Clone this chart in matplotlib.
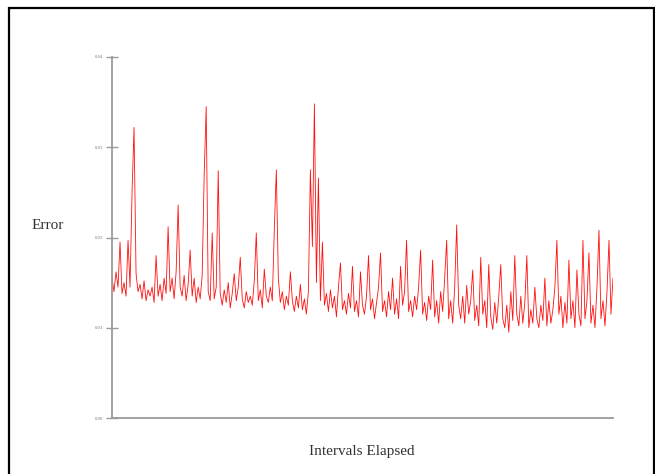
import matplotlib
matplotlib.use("Agg")
import matplotlib.pyplot as plt
from matplotlib.patches import Rectangle

# Error per interval (251 samples)
error_part1 = [1.55, 1.40, 1.62, 1.45, 1.95, 1.38, 1.50, 1.35, 1.97, 1.45,
               2.50, 3.22, 1.60, 1.40, 1.48, 1.32, 1.52, 1.30, 1.42, 1.35,
               1.45, 1.28, 1.80, 1.35, 1.48, 1.30, 1.55, 1.38, 2.12, 1.40,
               1.55, 1.32, 1.62, 2.36, 1.45, 1.35, 1.58, 1.30, 1.48, 1.86,
               1.35, 1.55, 1.28, 1.45, 1.32, 1.58, 2.70, 3.45, 1.40, 1.30]
error_part2 = [2.05, 1.32, 1.45, 2.74, 1.38, 1.25, 1.42, 1.28, 1.50, 1.22,
               1.38, 1.60, 1.30, 1.45, 1.78, 1.32, 1.22, 1.40, 1.28, 1.35,
               1.25, 1.52, 2.05, 1.30, 1.42, 1.22, 1.65, 1.35, 1.28, 1.45,
               1.30, 2.10, 2.75, 1.55, 1.28, 1.40, 1.20, 1.35, 1.25, 1.62,
               1.30, 1.18, 1.35, 1.22, 1.48, 1.20, 1.32, 1.15, 1.40, 2.75]
error_part3 = [1.90, 3.48, 1.50, 2.66, 1.30, 1.95, 1.25, 1.38, 1.18, 1.42,
               1.22, 1.35, 1.12, 1.45, 1.72, 1.20, 1.30, 1.15, 1.38, 1.22,
               1.68, 1.18, 1.30, 1.12, 1.62, 1.25, 1.15, 1.35, 1.80, 1.20,
               1.32, 1.10, 1.28, 1.45, 1.83, 1.18, 1.30, 1.12, 1.40, 1.20,
               1.55, 1.15, 1.32, 1.10, 1.68, 1.25, 1.40, 1.97, 1.18, 1.30]
error_part4 = [1.12, 1.35, 1.20, 1.45, 1.86, 1.15, 1.28, 1.08, 1.35, 1.20,
               1.75, 1.12, 1.30, 1.05, 1.40, 1.18, 1.55, 1.97, 1.10, 1.30,
               1.05, 1.45, 2.14, 1.25, 1.10, 1.35, 1.05, 1.47, 1.15, 1.30,
               1.64, 1.08, 1.25, 1.02, 1.78, 1.15, 1.30, 1.00, 1.70, 1.12,
               0.98, 1.28, 1.05, 1.35, 1.70, 1.10, 1.00, 1.25, 0.95, 1.40]
error_part5 = [1.08, 1.80, 1.15, 1.02, 1.35, 1.05, 1.28, 1.80, 1.00, 1.20,
               1.05, 1.45, 1.10, 1.00, 1.25, 1.08, 1.55, 1.02, 1.30, 1.05,
               1.20, 1.45, 1.97, 1.15, 1.35, 1.00, 1.28, 1.05, 1.75, 1.10,
               1.30, 1.00, 1.64, 1.15, 1.02, 1.97, 1.10, 1.30, 1.83, 1.05,
               1.25, 1.00, 1.45, 2.08, 1.10, 1.30, 1.02, 1.40, 1.97, 1.15,
               1.55]
errors = error_part1 + error_part2 + error_part3 + error_part4 + error_part5
intervals = list(range(len(errors)))

y_ticks = [0, 1, 2, 3, 4]
y_tick_labels = ["0.00", "0.01", "0.02", "0.03", "0.04"]

W, H = 655, 474
fig = plt.figure(figsize=(W / 100, H / 100), dpi=100)
fig.patch.set_facecolor("white")

# outer frame
fig.patches.append(Rectangle((8.5 / W, -0.05), (653.5 - 8.5) / W, 1.05 - 8.5 / H,
                             transform=fig.transFigure, fill=False,
                             edgecolor="black", linewidth=1.6))

ax = fig.add_axes([112 / W, 1 - 418 / H, (613 - 112) / W, (418 - 57) / H])
ax.plot(intervals, errors, color="#ff1010", linewidth=0.6)
ax.set_xlim(0, len(errors) - 1)
ax.set_ylim(0, 4)

for s in ["top", "right"]:
    ax.spines[s].set_visible(False)
for s in ["left", "bottom"]:
    ax.spines[s].set_color("#9a9a9a")
    ax.spines[s].set_linewidth(1.3)

ax.set_xticks([])
ax.set_yticks(y_ticks)
ax.set_yticklabels(y_tick_labels, fontsize=3.5, color="#777777",
                   family="Liberation Serif")
ax.tick_params(axis="y", direction="inout", length=8, width=1,
               color="#9a9a9a", pad=2)

fig.text(48 / W, 1 - 226 / H, "Error", ha="center", va="center",
         family="Liberation Serif", fontsize=11, color="#333333")
fig.text(362 / W, 1 - 452 / H, "Intervals Elapsed", ha="center", va="center",
         family="Liberation Serif", fontsize=11, color="#333333")

fig.savefig("out.png", dpi=100, facecolor="white")
